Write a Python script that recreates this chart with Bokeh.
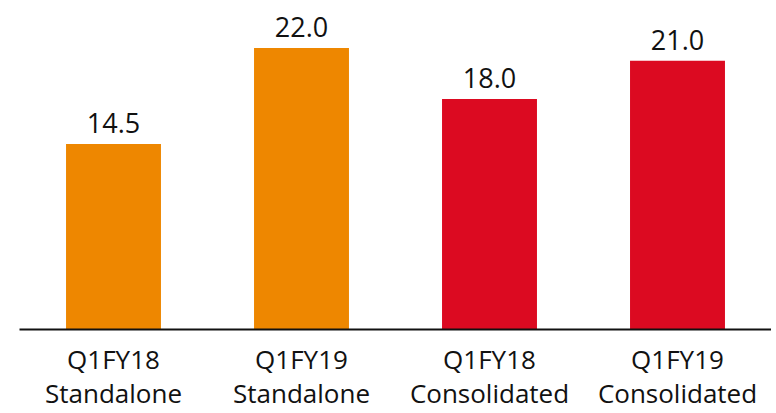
from bokeh.plotting import figure
from bokeh.models import ColumnDataSource, FactorRange, Range1d
from bokeh.core.properties import value
from bokeh.embed import file_html
from bokeh.resources import INLINE

categories = ["Q1FY18\nStandalone", "Q1FY19\nStandalone", "Q1FY18\nConsolidated", "Q1FY19\nConsolidated"]
values = [14.5, 22.0, 18.0, 21.0]
labels = ["14.5", "22.0", "18.0", "21.0"]
colors = ["#EE8700", "#EE8700", "#DC0A21", "#DC0A21"]

FONT = "Open Sans"

src = ColumnDataSource(dict(x=categories, top=values, label=labels, color=colors))

p = figure(frame_width=752, frame_height=321, output_backend="svg", toolbar_location=None,
           x_range=FactorRange(factors=categories, range_padding=0),
           y_range=Range1d(0, 25.08), y_axis_location=None,
           min_border_left=19, min_border_right=0, min_border_top=8, min_border_bottom=10)

p.vbar(x="x", top="top", width=0.505, color="color", line_color=None, source=src)
p.text(x="x", y="top", text="label", source=src, text_align="center", text_baseline="bottom",
       y_offset=-11, text_font=value(FONT), text_font_size="27px", text_color="#111111")

p.xgrid.visible = False
p.ygrid.visible = False
p.outline_line_color = None
p.background_fill_color = "white"
p.border_fill_color = "white"

ax = p.xaxis[0]
ax.axis_line_color = "#111111"
ax.axis_line_width = 2
ax.major_tick_line_color = None
ax.minor_tick_line_color = None
ax.major_label_standoff = 5
ax.major_label_text_font = FONT
ax.major_label_text_font_size = "26px"
ax.major_label_text_color = "#111111"
ax.major_label_text_line_height = 0.95

open("out.html", "w").write(file_html(p, INLINE))
